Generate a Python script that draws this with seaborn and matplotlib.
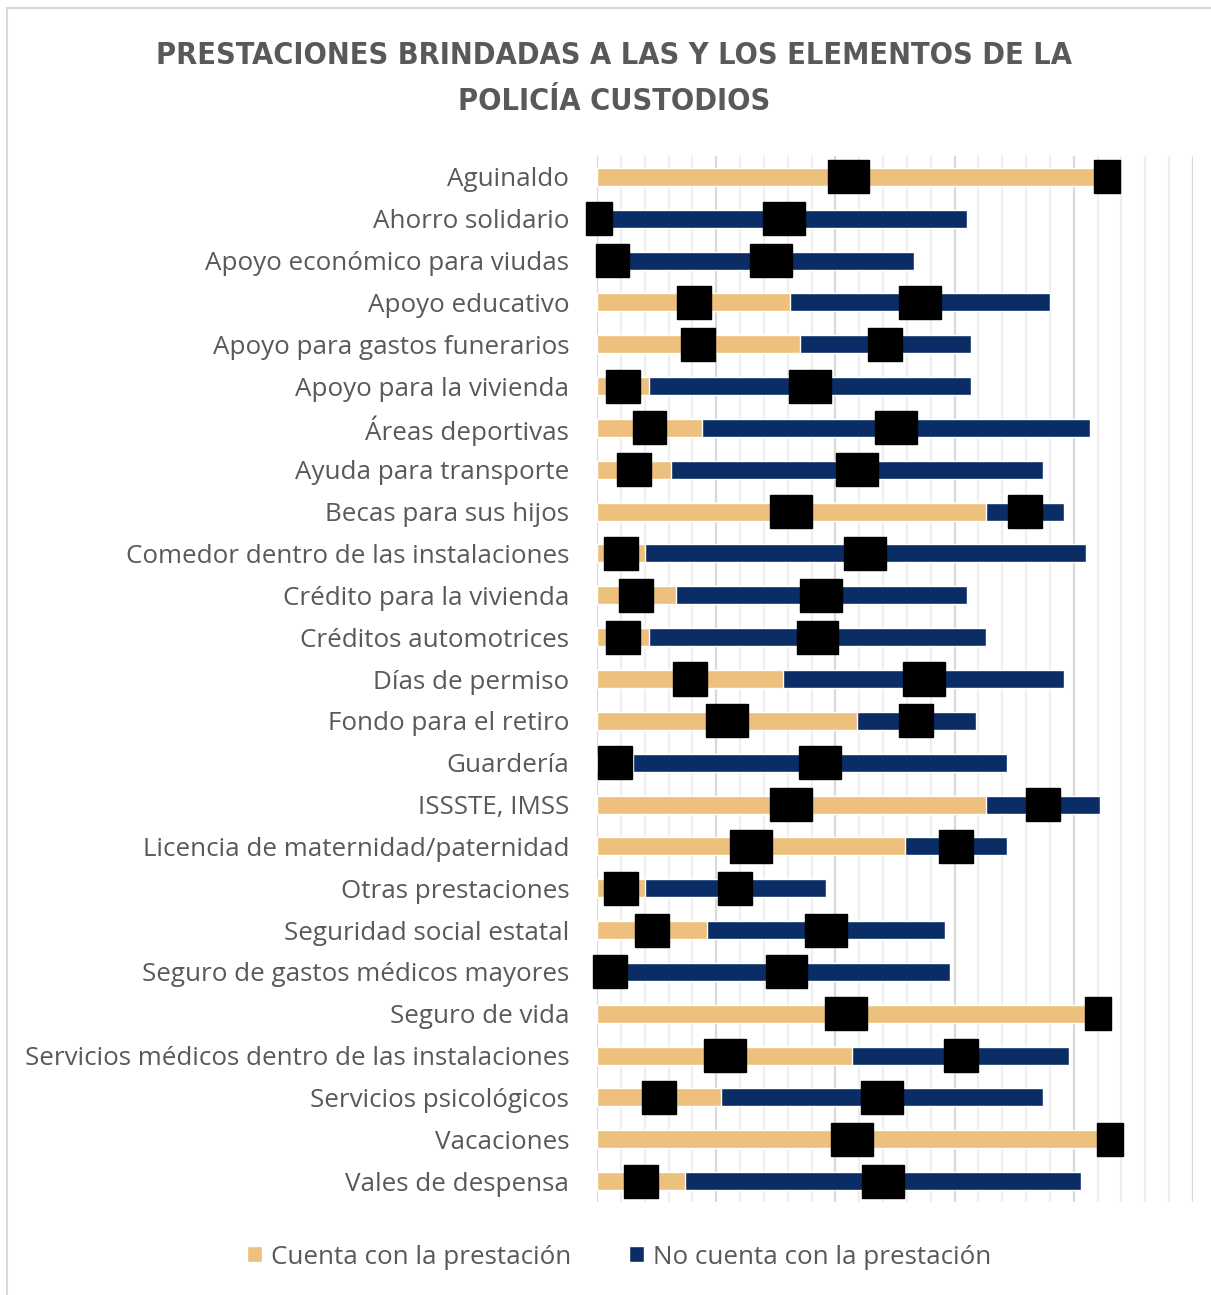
import matplotlib
matplotlib.use("Agg")
import matplotlib.pyplot as plt
import seaborn as sns
import pandas as pd
from matplotlib.patches import Patch, Rectangle
from matplotlib.ticker import MultipleLocator

categories = [
    "Aguinaldo", "Ahorro solidario", "Apoyo económico para viudas", "Apoyo educativo",
    "Apoyo para gastos funerarios", "Apoyo para la vivienda", "Áreas deportivas",
    "Ayuda para transporte", "Becas para sus hijos", "Comedor dentro de las instalaciones",
    "Crédito para la vivienda", "Créditos automotrices", "Días de permiso",
    "Fondo para el retiro", "Guardería", "ISSSTE, IMSS", "Licencia de maternidad/paternidad",
    "Otras prestaciones", "Seguridad social estatal", "Seguro de gastos médicos mayores",
    "Seguro de vida", "Servicios médicos dentro de las instalaciones",
    "Servicios psicológicos", "Vacaciones", "Vales de despensa",
]
cuenta = [211, 2, 13, 81, 85, 22, 44, 31, 163, 20, 33, 22, 78, 109, 15, 163, 129, 20, 46, 11, 209, 107, 52, 214, 37]
no_cuenta = [6, 153, 120, 109, 72, 135, 163, 156, 33, 185, 122, 141, 118, 50, 157, 48, 43, 76, 100, 137, 2, 91, 135, 2, 166]

yellow = "#EDC17D"
navy = "#0B2D66"
text_col = "#595959"
font = ["Open Sans", "DejaVu Sans"]

df = pd.DataFrame({"cat": categories, "si": cuenta, "no": no_cuenta})
df["total"] = df["si"] + df["no"]

sns.set_style("white")
plt.rcParams["font.family"] = font

fig = plt.figure(figsize=(12.11, 12.95), dpi=100)
ax = fig.add_axes([597 / 1211, 1 - 1202 / 1295, 596 / 1211, 1046 / 1295])

# stacked bars: total in navy, then the "cuenta" part on top in yellow
sns.barplot(data=df, x="total", y="cat", color=navy, width=0.43, orient="h",
            saturation=1, ax=ax, zorder=3)
sns.barplot(data=df, x="si", y="cat", color=yellow, width=0.43, orient="h",
            saturation=1, ax=ax, zorder=3)

# value labels (redacted as black boxes in the reference)
box = dict(boxstyle="square,pad=0.65", facecolor="black", edgecolor="black")
for i, (s, n) in enumerate(zip(cuenta, no_cuenta)):
    ax.text(s / 2, i, str(s), ha="center", va="center", fontsize=10,
            color="black", bbox=box, zorder=5)
    ax.text(s + n / 2, i, str(n), ha="center", va="center", fontsize=10,
            color="black", bbox=box, zorder=5)

ax.set_xlim(0, 250)
ax.set_ylim(24.5, -0.5)
ax.xaxis.set_major_locator(MultipleLocator(50))
ax.xaxis.set_minor_locator(MultipleLocator(10))
ax.grid(axis="x", which="major", color="#d9d9d9", lw=1.6, zorder=0)
ax.grid(axis="x", which="minor", color="#efefef", lw=1.6, zorder=0)
ax.set_axisbelow(True)
ax.tick_params(axis="x", which="both", length=0, labelbottom=False)
ax.tick_params(axis="y", length=0, pad=20, labelsize=18.7, labelcolor=text_col)
ax.set_xlabel("")
ax.set_ylabel("")
for sp in ax.spines.values():
    sp.set_visible(False)

fig.text(614 / 1211, 1 - 55 / 1295, "PRESTACIONES BRINDADAS A LAS Y LOS ELEMENTOS DE LA",
         ha="center", va="center", fontsize=22, fontweight="bold", color=text_col,
         family=["DejaVu Sans"], fontstretch="condensed")
fig.text(614 / 1211, 1 - 102 / 1295, "POLICÍA CUSTODIOS",
         ha="center", va="center", fontsize=22, fontweight="bold", color=text_col,
         family=["DejaVu Sans"], fontstretch="condensed")

handles = [Patch(facecolor=yellow, label="Cuenta con la prestación"),
           Patch(facecolor=navy, label="No cuenta con la prestación")]
leg = fig.legend(handles=handles, loc="center", bbox_to_anchor=(619 / 1211, 1 - 1257 / 1295),
                 ncol=2, frameon=False, fontsize=18.7, handlelength=0.58, handleheight=0.58,
                 handletextpad=0.35, columnspacing=2.2)
for t in leg.get_texts():
    t.set_color(text_col)

# light frame around the chart area
fig.patches.append(Rectangle((7 / 1211, -0.1), 1.2, 1 - 8 / 1295 + 0.1, transform=fig.transFigure,
                             fill=False, edgecolor="#d9d9d9", lw=1.5))

fig.savefig("out.png", dpi=100)
